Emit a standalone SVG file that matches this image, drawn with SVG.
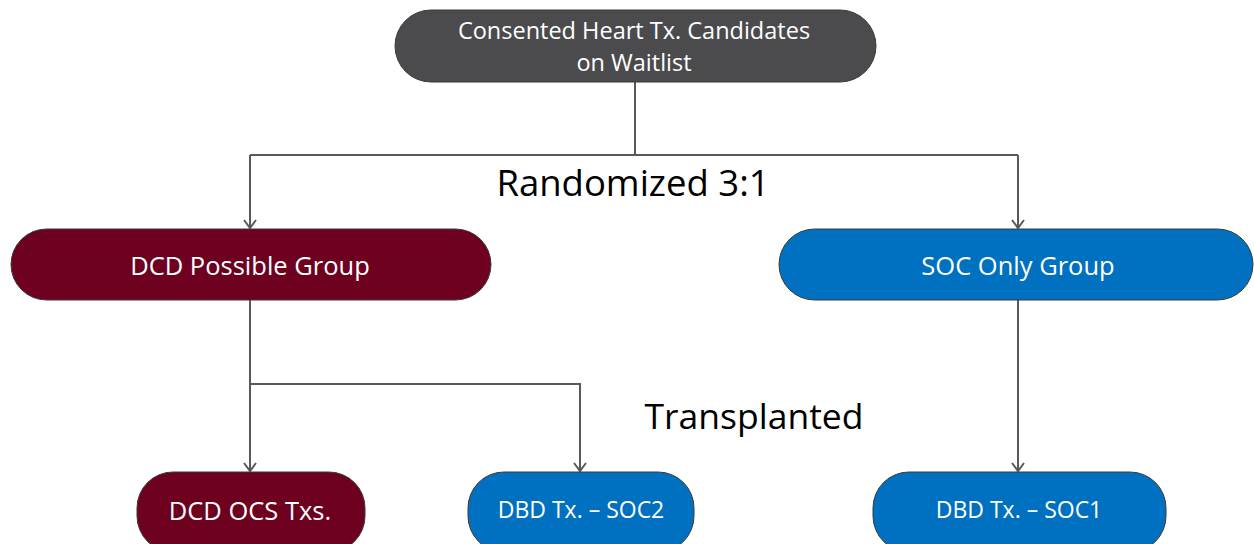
<svg xmlns="http://www.w3.org/2000/svg" width="1254" height="544" viewBox="0 0 1254 544">
  <defs>
    <marker id="arrow" viewBox="0 0 12 14" refX="10" refY="7" markerWidth="12" markerHeight="14" markerUnits="userSpaceOnUse" orient="auto" overflow="visible">
      <path d="M2,1 L10,7 L2,13" fill="none" stroke="#595959" stroke-width="2"/>
    </marker>
    <style>
      .node { stroke: #3a3a3a; stroke-width: 1; }
      .gray { fill: #4b4b4d; }
      .maroon { fill: #6e0020; }
      .blue { fill: #0070c0; }
      .label { font-family: "Open Sans", "Liberation Sans", sans-serif; fill: #ffffff; text-anchor: middle; }
      .big { font-family: "Open Sans", "Liberation Sans", sans-serif; fill: #000000; text-anchor: middle; }
      .conn { fill: none; stroke: #595959; stroke-width: 2; }
    </style>
  </defs>
  <rect width="1254" height="544" fill="#ffffff"/>

  <g id="connectors">
    <path class="conn" d="M635,82 V155 M250,155 H1018"/>
    <path class="conn" d="M250,155 V228" marker-end="url(#arrow)"/>
    <path class="conn" d="M1018,155 V228" marker-end="url(#arrow)"/>
    <path class="conn" d="M250,300 V471" marker-end="url(#arrow)"/>
    <path class="conn" d="M250,384 H580 V471" marker-end="url(#arrow)"/>
    <path class="conn" d="M1018,300 V471" marker-end="url(#arrow)"/>
  </g>

  <g id="candidates">
    <rect class="node gray" x="395" y="10" width="481" height="72" rx="36"/>
    <text class="label" x="634" y="38.5" font-size="23.5">Consented Heart Tx. Candidates</text>
    <text class="label" x="634" y="71" font-size="23.5">on Waitlist</text>
  </g>

  <g id="randomized">
    <text class="big" x="633" y="196" font-size="36.5">Randomized 3:1</text>
  </g>

  <g id="dcd-possible">
    <rect class="node maroon" x="11" y="229" width="480" height="71" rx="35.5"/>
    <text class="label" x="250" y="275" font-size="25.5">DCD Possible Group</text>
  </g>

  <g id="soc-only">
    <rect class="node blue" x="779" y="229" width="474" height="71" rx="35.5"/>
    <text class="label" x="1018" y="275" font-size="25.5">SOC Only Group</text>
  </g>

  <g id="transplanted">
    <text class="big" x="754" y="429" font-size="35.5">Transplanted</text>
  </g>

  <g id="dcd-ocs">
    <rect class="node maroon" x="137" y="472" width="228" height="80" rx="36"/>
    <text class="label" x="250" y="520" font-size="25.5">DCD OCS Txs.</text>
  </g>

  <g id="dbd-soc2">
    <rect class="node blue" x="468" y="472" width="226" height="80" rx="36"/>
    <text class="label" x="581" y="518" font-size="23">DBD Tx. – SOC2</text>
  </g>

  <g id="dbd-soc1">
    <rect class="node blue" x="873" y="472" width="293" height="80" rx="36"/>
    <text class="label" x="1019" y="518" font-size="23">DBD Tx. – SOC1</text>
  </g>
</svg>
